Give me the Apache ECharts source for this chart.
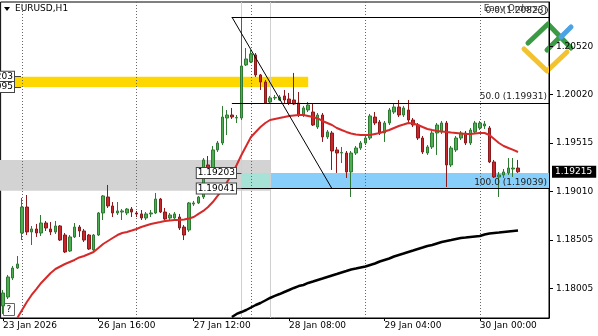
<!DOCTYPE html>
<html><head><meta charset="utf-8">
<script src="https://cdn.jsdelivr.net/npm/echarts@6/dist/echarts.min.js"></script>
<style>html,body{margin:0;padding:0;background:#fff}#c{width:598px;height:336px}</style>
</head><body><div id="c"></div>
<script>
// ---- data (EURUSD H1) ----
const totalSlots = 115; // 109 bars + empty right shift
const categories = [];
(function () {
  const push = (d, h) => categories.push(d + ' Jan ' + String(h).padStart(2, '0') + ':00');
  for (let h = 20; h < 24; h++) push(23, h);
  for (let d = 26; categories.length < totalSlots; d++)
    for (let h = 0; h < 24 && categories.length < totalSlots; h++) push(d, h);
})();
const xTickLabels = ['23 Jan 2026', '26 Jan 16:00', '27 Jan 12:00', '28 Jan 08:00', '29 Jan 04:00', '30 Jan 00:00'];
const yTickValues = [1.18005, 1.18505, 1.19010, 1.19515, 1.20020, 1.20520];
const yTickLabels = ['1.18005', '1.18505', '1.19010', '1.19515', '1.20020', '1.20520'];

const opens = [1.17821,1.17914,1.18112,1.18215,1.18579,1.18849,1.18590,1.18621,1.18579,1.18683,
1.18621,1.18590,1.18652,1.18558,1.18392,1.18538,1.18641,1.18600,1.18558,1.18403,
1.18558,1.18787,1.18953,1.18860,1.18787,1.18797,1.18787,1.18828,1.18787,1.18777,
1.18735,1.18777,1.18787,1.18932,1.18797,1.18735,1.18735,1.18745,1.18641,1.18610,
1.18880,1.18891,1.18953,1.19286,1.19213,1.19442,1.19514,1.19774,1.19805,1.19774,
1.19774,1.20325,1.20356,1.20429,1.20221,1.20148,1.19940,1.19982,1.19961,1.20003,
1.19971,1.19961,1.19930,1.19805,1.19857,1.19836,1.19680,1.19805,1.19577,1.19618,
1.19442,1.19410,1.19410,1.19213,1.19410,1.19462,1.19514,1.19566,1.19784,1.19732,
1.19618,1.19722,1.19836,1.19888,1.19805,1.19857,1.19753,1.19701,1.19566,1.19410,
1.19473,1.19618,1.19629,1.19722,1.19286,1.19442,1.19566,1.19618,1.19514,1.19629,
1.19670,1.19691,1.19670,1.19317,1.19161,1.19182,1.19203,1.19244,1.19254];
const closes = [1.17956,1.18122,1.18215,1.18257,1.18849,1.18590,1.18621,1.18579,1.18683,1.18631,
1.18590,1.18652,1.18506,1.18382,1.18538,1.18641,1.18600,1.18506,1.18413,1.18558,
1.18787,1.18964,1.18860,1.18787,1.18808,1.18808,1.18828,1.18797,1.18777,1.18735,
1.18777,1.18787,1.18932,1.18797,1.18725,1.18766,1.18777,1.18631,1.18558,1.18891,
1.18891,1.18953,1.19338,1.19234,1.19442,1.19514,1.19784,1.19805,1.19784,1.19779,
1.20314,1.20387,1.20439,1.20221,1.20148,1.19930,1.19982,1.19987,1.19992,1.19961,
1.19930,1.19919,1.19805,1.19878,1.19909,1.19701,1.19805,1.19577,1.19629,1.19431,
1.19410,1.19416,1.19213,1.19410,1.19462,1.19514,1.19566,1.19795,1.19722,1.19618,
1.19722,1.19857,1.19888,1.19805,1.19878,1.19753,1.19701,1.19566,1.19421,1.19473,
1.19618,1.19701,1.19722,1.19286,1.19462,1.19566,1.19618,1.19514,1.19649,1.19722,
1.19722,1.19712,1.19317,1.19161,1.19182,1.19213,1.19254,1.19254,1.19215];
const lows = [1.17738,1.17893,1.18091,1.18205,1.18506,1.18558,1.18454,1.18538,1.18548,1.18600,
1.18558,1.18569,1.18496,1.18371,1.18382,1.18527,1.18538,1.18486,1.18403,1.18382,
1.18548,1.18714,1.18839,1.18745,1.18766,1.18714,1.18766,1.18745,1.18745,1.18714,
1.18714,1.18745,1.18777,1.18787,1.18714,1.18714,1.18725,1.18610,1.18506,1.18590,
1.18860,1.18880,1.18932,1.19213,1.19192,1.19421,1.19493,1.19597,1.19764,1.19722,
1.19753,1.20314,1.20345,1.20200,1.20065,1.19919,1.19919,1.19961,1.19951,1.19930,
1.19909,1.19909,1.19784,1.19784,1.19836,1.19691,1.19660,1.19525,1.19556,1.19234,
1.19203,1.19306,1.19151,1.18953,1.19390,1.19442,1.19493,1.19545,1.19701,1.19597,
1.19525,1.19701,1.19816,1.19784,1.19784,1.19732,1.19680,1.19545,1.19400,1.19390,
1.19452,1.19390,1.19608,1.19057,1.19265,1.19421,1.19545,1.19493,1.19493,1.19608,
1.19649,1.19660,1.19306,1.19151,1.18953,1.19151,1.19182,1.19161,1.19203];
const highs = [1.17987,1.18143,1.18236,1.18340,1.18943,1.18974,1.18652,1.18673,1.18766,1.18704,
1.18693,1.18704,1.18662,1.18579,1.18558,1.18683,1.18662,1.18621,1.18569,1.18569,
1.18797,1.18974,1.19078,1.18901,1.18901,1.18828,1.18839,1.18849,1.18808,1.18818,
1.18797,1.18818,1.18995,1.18943,1.18839,1.18787,1.18797,1.18777,1.18662,1.18901,
1.18912,1.18964,1.19358,1.19379,1.19483,1.19535,1.19899,1.19857,1.19878,1.19805,
1.20823,1.20501,1.20481,1.20449,1.20231,1.20169,1.20003,1.20013,1.20013,1.20065,
1.20034,1.20242,1.20044,1.19899,1.19940,1.19919,1.19826,1.19826,1.19649,1.19639,
1.19473,1.19473,1.19431,1.19431,1.19483,1.19535,1.19587,1.19816,1.19836,1.19753,
1.19743,1.19878,1.19919,1.19961,1.19899,1.19961,1.19774,1.19722,1.19587,1.19493,
1.19639,1.19722,1.19743,1.19743,1.19483,1.19587,1.19639,1.19639,1.19670,1.19743,
1.19743,1.19743,1.19691,1.19338,1.19213,1.19244,1.19358,1.19358,1.19338];

const redMAStart = 3;
const redMA = [1.17696,1.17779,1.17862,1.17935,1.17997,1.18060,1.18112,1.18164,1.18205,1.18231,
1.18257,1.18278,1.18299,1.18325,1.18340,1.18361,1.18382,1.18423,1.18465,1.18496,
1.18527,1.18558,1.18579,1.18590,1.18605,1.18621,1.18641,1.18657,1.18673,1.18683,
1.18693,1.18704,1.18709,1.18714,1.18714,1.18719,1.18730,1.18745,1.18777,1.18808,
1.18849,1.18901,1.18964,1.19026,1.19109,1.19192,1.19286,1.19390,1.19483,1.19577,
1.19629,1.19680,1.19722,1.19753,1.19764,1.19774,1.19784,1.19795,1.19800,1.19805,
1.19805,1.19795,1.19784,1.19769,1.19743,1.19722,1.19701,1.19670,1.19649,1.19629,
1.19613,1.19603,1.19597,1.19597,1.19597,1.19608,1.19618,1.19634,1.19649,1.19670,
1.19691,1.19706,1.19722,1.19717,1.19701,1.19680,1.19660,1.19649,1.19639,1.19634,
1.19629,1.19623,1.19618,1.19613,1.19608,1.19608,1.19613,1.19618,1.19618,1.19597,
1.19556,1.19514,1.19483,1.19462,1.19442,1.19421];
const blackMAStart = 48;
const blackMA = [1.17706,1.17738,1.17758,1.17779,1.17805,1.17831,1.17852,1.17878,1.17904,1.17925,
1.17945,1.17966,1.17987,1.18008,1.18028,1.18039,1.18060,1.18075,1.18091,1.18106,
1.18122,1.18138,1.18153,1.18169,1.18184,1.18200,1.18210,1.18221,1.18231,1.18247,
1.18262,1.18283,1.18299,1.18314,1.18335,1.18351,1.18366,1.18382,1.18397,1.18413,
1.18428,1.18444,1.18454,1.18470,1.18486,1.18496,1.18506,1.18517,1.18527,1.18532,
1.18538,1.18543,1.18548,1.18564,1.18574,1.18579,1.18584,1.18590,1.18595,1.18600,
1.18605];

// annotation levels
const fibLevels = [['0.0', 1.20823], ['50.0', 1.19931], ['100.0', 1.19039]];
const fibFrom = 48, fibTo = 69;
const yellowZone = [1.20203, 1.20095], yellowEnd = 64;
const grayZone = [1.19338, 1.19019], grayEnd = 56;
const blueZone = [1.19203, 1.19041], blueStart = 50, blueSplit = 56;
const lastPrice = 1.19215;
const daySeparators = [4, 28, 52, 76, 100];
const markerBars = [50, 56];

// ---- chart ----
const FONT = 'DejaVu Sans';
const GRID = { left: 0, right: 49, top: 2, bottom: 18 };
const RIGHT_X = 598 - GRID.right;
const candleData = opens.map((o, i) => [o, closes[i], lows[i], highs[i]]);
const pad = (n, arr) => new Array(n).fill(null).concat(arr);
const showEvery20 = (i) => i % 20 === 0 && i <= 100;

const chart = echarts.init(document.getElementById('c'), null, { width: 598, height: 336 });
const smallLabel = { fontFamily: FONT, fontSize: 9, color: '#000' };
const tagLabel = (v) => Object.assign({ show: true, position: 'start', distance: 0,
  formatter: v.toFixed(5), backgroundColor: '#fff', borderColor: '#444', borderWidth: 1, padding: [1, 1, 0, 1] }, smallLabel);
chart.setOption({
  animation: false,
  backgroundColor: '#fff',
  textStyle: { fontFamily: FONT },
  grid: Object.assign({ show: true, borderColor: '#000', borderWidth: 1, backgroundColor: '#fff' }, GRID),
  xAxis: {
    type: 'category', data: categories, boundaryGap: true,
    axisLine: { show: true, lineStyle: { color: '#000' } },
    axisTick: { show: true, alignWithLabel: true, interval: showEvery20, length: 3, lineStyle: { color: '#000' } },
    axisLabel: Object.assign({ interval: showEvery20, align: 'left', margin: 3,
      formatter: (v, i) => xTickLabels[i / 20] || '' }, smallLabel),
    splitLine: { show: false }
  },
  yAxis: {
    type: 'value', position: 'right', min: 1.17696, max: 1.20979, scale: true,
    axisLine: { show: true, lineStyle: { color: '#000' } },
    axisTick: { show: true, length: 4, customValues: yTickValues, lineStyle: { color: '#000' } },
    axisLabel: Object.assign({ customValues: yTickValues, margin: 7,
      formatter: (v) => { let b = 0; yTickValues.forEach((t, i) => { if (Math.abs(t - v) < Math.abs(yTickValues[b] - v)) b = i; }); return yTickLabels[b]; } }, smallLabel),
    splitLine: { show: false }
  },
  series: [
    { // zones and vertical separators
      type: 'line', data: [], silent: true, clip: false,
      markArea: {
        z: 1, silent: true,
        data: [
          [{ x: 0, yAxis: yellowZone[0], itemStyle: { color: '#ffd700' } }, { xAxis: yellowEnd, yAxis: yellowZone[1] }],
          [{ x: 0, yAxis: grayZone[0], itemStyle: { color: '#d3d3d3' } }, { xAxis: grayEnd, yAxis: grayZone[1] }],
          [{ xAxis: blueSplit, yAxis: blueZone[0], itemStyle: { color: '#87cefa' } }, { x: RIGHT_X, yAxis: blueZone[1] }],
          [{ xAxis: blueStart, yAxis: blueZone[0], itemStyle: { color: '#a6e3d6' } }, { xAxis: blueSplit, yAxis: blueZone[1] }]
        ]
      },
      markLine: {
        z: 1.5, silent: true, symbol: 'none', label: { show: false },
        data: daySeparators.map(b => ({ xAxis: b, lineStyle: { color: '#666', type: [1, 2], width: 1 } }))
          .concat(markerBars.map(b => ({ xAxis: b, lineStyle: { color: '#cfcfcf', type: 'solid', width: 1 } })))
      }
    },
    {
      name: 'EURUSD', type: 'candlestick', data: candleData, barWidth: 3, z: 3,
      itemStyle: { color: '#4cae50', color0: '#c8282c', borderColor: '#2f7a33', borderColor0: '#8a1a1c', borderWidth: 1 }
    },
    { name: 'MA fast', type: 'line', data: pad(redMAStart, redMA), symbol: 'none', z: 4,
      lineStyle: { color: '#d62a2a', width: 2 } },
    { name: 'MA slow', type: 'line', data: pad(blackMAStart, blackMA), symbol: 'none', z: 4,
      lineStyle: { color: '#000', width: 2.5 } },
    { // fibonacci, trend line and price labels
      type: 'line', data: [], silent: true, clip: false,
      markLine: {
        z: 6, silent: true, symbol: 'none', animation: false,
        lineStyle: { color: '#000', width: 1, type: 'solid' },
        data: fibLevels.map(([n, v]) => [
          { xAxis: fibFrom, yAxis: v, label: Object.assign({ show: true, position: 'insideEndTop', distance: [2, 2],
              formatter: n + ' (' + v.toFixed(5) + ')' }, smallLabel, { color: '#222' }) },
          { x: RIGHT_X, yAxis: v }
        ]).concat([
          [{ xAxis: fibFrom, yAxis: fibLevels[0][1], label: { show: false } }, { xAxis: fibTo, yAxis: fibLevels[2][1] }],
          // rectangle price tags
          ...[yellowZone[0], yellowZone[1]].map(v => [
            { x: 14, yAxis: v, lineStyle: { color: '#444' }, label: tagLabel(v) },
            { x: 21, yAxis: v }]),
          ...[blueZone[0], blueZone[1]].map(v => [
            { x: 236, yAxis: v, lineStyle: { color: '#444' }, label: tagLabel(v) },
            { xAxis: blueStart, yAxis: v }]),
          [{ x: RIGHT_X, yAxis: lastPrice, lineStyle: { width: 0 }, label: Object.assign({ show: true, position: 'end', distance: 1,
              formatter: lastPrice.toFixed(5), backgroundColor: '#000', padding: [2, 4, 1, 3] }, smallLabel, { color: '#fff' }) },
           { x: RIGHT_X + 2, yAxis: lastPrice }]
        ])
      }
    }
  ],
  graphic: [
    { type: 'polygon', shape: { points: [[4, 7], [10, 7], [7, 11]] }, style: { fill: '#000' } },
    { type: 'text', left: 15, top: 4, style: { text: 'EURUSD,H1', font: '9px "DejaVu Sans"', fill: '#000' } },
    { type: 'group', left: 3, top: 303, children: [
      { type: 'rect', shape: { x: 0, y: 0, width: 11, height: 12 }, style: { fill: '#fff', stroke: '#666', lineWidth: 1 } },
      { type: 'text', x: 5.5, y: 6.5, style: { text: '?', font: '9px "DejaVu Sans"', fill: '#000', align: 'center', verticalAlign: 'middle' } }
    ]},
    { type: 'text', right: 60, top: 4, z: 50, style: { text: 'Easy Orders', font: '9px "DejaVu Sans"', fill: '#333' } },
    { type: 'circle', shape: { cx: 543, cy: 10, r: 4.5 }, z: 50, style: { fill: 'none', stroke: '#333', lineWidth: 1 } },
    { type: 'group', z: 100, children: [
      { type: 'polyline', shape: { points: [[524, 49], [547, 71], [567, 52]] }, style: { stroke: '#f2c230', lineWidth: 5, fill: null, lineCap: 'round', lineJoin: 'round' } },
      { type: 'polyline', shape: { points: [[528, 43], [548, 24], [571, 48]] }, style: { stroke: '#3c9a47', lineWidth: 5, fill: null, lineCap: 'round', lineJoin: 'round' } },
      { type: 'line', shape: { x1: 547, y1: 50, x2: 559, y2: 38 }, style: { stroke: '#3c9a47', lineWidth: 5, lineCap: 'round' } },
      { type: 'line', shape: { x1: 561, y1: 37, x2: 571, y2: 27 }, style: { stroke: '#4ba3e3', lineWidth: 5, lineCap: 'round' } }
    ]}
  ]
});
</script>
</body></html>
